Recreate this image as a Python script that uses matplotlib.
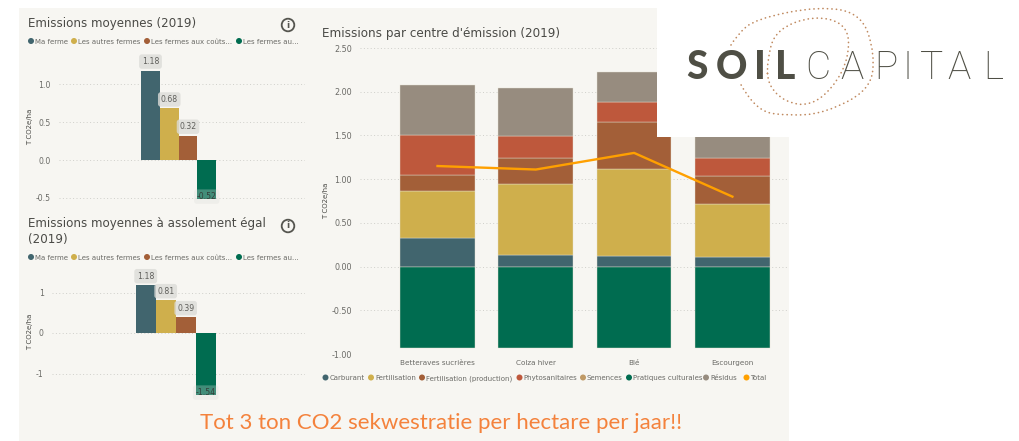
import numpy as np
import matplotlib
matplotlib.use('Agg')
import matplotlib.pyplot as plt
from matplotlib.patches import Rectangle, Circle, PathPatch
from matplotlib.path import Path

W, H = 1020, 441

# small charts
farm_names = ['Ma ferme', 'Les autres fermes', 'Les fermes aux coûts...', 'Les fermes au...']
avg_values = [1.18, 0.68, 0.32, -0.52]
avg_labels = ['1.18', '0.68', '0.32', '-0.52']
equal_values = [1.18, 0.81, 0.39, -1.54]
equal_labels = ['1.18', '0.81', '0.39', '-1.54']

# main chart
crops = ['Betteraves sucrières', 'Colza hiver', 'Blé', 'Escourgeon']
carburant = [0.33, 0.13, 0.12, 0.11]
fertilisation = [0.54, 0.82, 1.00, 0.61]
fert_production = [0.18, 0.29, 0.53, 0.32]
phytosanitaires = [0.46, 0.25, 0.23, 0.20]
pratiques = [-0.93, -0.93, -0.93, -0.93]
residus = [0.57, 0.55, 0.35, 0.40]
total = [1.15, 1.11, 1.30, 0.80]
main_legend = ['Carburant', 'Fertilisation', 'Fertilisation (production)', 'Phytosanitaires',
               'Semences', 'Pratiques culturales', 'Résidus', 'Total']

TEAL = '#41656e'
GOLD = '#cfaf4c'
BROWN = '#a35f38'
RED = '#be583c'
TAN = '#c09a66'
GREEN = '#006c50'
GREY = '#978c7f'
ORANGE = '#ffa000'
PANEL = '#f7f6f2'
TXT = '#6a6a66'


def px_axes(left, right, top, bottom, zorder=1):
    ax = fig.add_axes([left / W, 1 - bottom / H, (right - left) / W, (bottom - top) / H], zorder=zorder)
    ax.patch.set_alpha(0)
    for s in ax.spines.values():
        s.set_visible(False)
    return ax


def small_chart(ax, values, labels, ticks, fmt):
    cols = [TEAL, GOLD, BROWN, GREEN]
    ax.bar(range(4), values, width=1.0, color=cols, zorder=2)
    ax.set_yticks(ticks)
    ax.set_yticklabels([fmt % t for t in ticks], fontsize=5.6, color=TXT)
    ax.set_xticks([])
    ax.tick_params(axis='y', length=0, pad=6)
    ax.yaxis.grid(True, linestyle=(0, (1, 2.5)), color='#cfcfca', lw=0.7, zorder=0)
    ax.set_axisbelow(True)
    for i, (v, lab) in enumerate(zip(values, labels)):
        # positive labels sit above the bar, the negative one lies over its end
        yoff = 6.5 if v > 0 else 2
        alpha = 0.8 if v > 0 else 0.3
        col = '#5f5f5b' if v > 0 else '#33403a'
        ax.annotate(lab, (i, v), xytext=(0, yoff), textcoords='offset points',
                    ha='center', va='center', fontsize=5.6, color=col, zorder=3,
                    bbox=dict(boxstyle='round,pad=0.35', fc='#dcdcd8', ec='none', alpha=alpha))


fig = plt.figure(figsize=(W / 100, H / 100), dpi=100, facecolor='white')
plt.rcParams['font.family'] = ['DejaVu Sans']

# page layer in pixel coordinates
bg = fig.add_axes([0, 0, 1, 1], zorder=0)
bg.set_xlim(0, W)
bg.set_ylim(H, 0)
bg.axis('off')
bg.add_patch(Rectangle((19, 8), 770, 433, fc=PANEL, ec='none'))

# top left chart
ax1 = px_axes(59, 305, 60, 210)
ax1.set_xlim((59 - 150.5) / 18.75, (305 - 150.5) / 18.75)
ax1.set_ylim(-0.66, 1.32)
small_chart(ax1, avg_values, avg_labels, [-0.5, 0.0, 0.5, 1.0], '%.1f')
bg.text(28, 23, 'Emissions moyennes (2019)', fontsize=8.6, color='#4a4a46', va='center')
bg.text(30, 127, 'T CO2e/ha', fontsize=5, color='#4a4a46', rotation=90, ha='center', va='center')

# bottom left chart
ax2 = px_axes(52, 305, 270, 400)
ax2.set_xlim((52 - 145.7) / 20, (305 - 145.7) / 20)
ax2.set_ylim(-(400 - 333) / 40.5, (333 - 270) / 40.5)
small_chart(ax2, equal_values, equal_labels, [-1, 0, 1], '%d')
bg.text(28, 224, 'Emissions moyennes à assolement égal', fontsize=8.6, color='#4a4a46', va='center')
bg.text(28, 239, '(2019)', fontsize=8.6, color='#4a4a46', va='center')
bg.text(30, 332, 'T CO2e/ha', fontsize=5, color='#4a4a46', rotation=90, ha='center', va='center')

# legends of the small charts
for ly in (41, 257):
    for name, col, tx in zip(farm_names, [TEAL, GOLD, BROWN, GREEN], [31, 74, 147, 239]):
        bg.add_patch(Circle((tx, ly), 3, fc=col, ec='none'))
        bg.text(tx + 4, ly, name, fontsize=5.0, color=TXT, va='center_baseline')

# info icons
for iy in (25, 226):
    bg.add_patch(Circle((288, iy), 6.3, fc='none', ec='#55554f', lw=1.3))
    bg.text(288, iy, 'i', fontsize=6.5, color='#55554f', ha='center', va='center', fontweight='bold')

# main chart
ax3 = px_axes(360, 789, 48, 354)
ax3.set_xlim((360 - 437.5) / 98.3, (789 - 437.5) / 98.3)
ax3.set_ylim(-1.0, 2.5)
x = np.arange(4)
base = np.zeros(4)
for vals, col in zip([carburant, fertilisation, fert_production, phytosanitaires, residus],
                     [TEAL, GOLD, BROWN, RED, GREY]):
    ax3.bar(x, vals, bottom=base, width=0.76, color=col, edgecolor='#e4e0d2', lw=0.3, zorder=2)
    base = base + np.array(vals)
ax3.bar(x, pratiques, width=0.76, color=GREEN, edgecolor='#e4e0d2', lw=0.3, zorder=2)
ax3.plot(x, total, color=ORANGE, lw=1.7, zorder=3)
ax3.set_yticks([-1, -0.5, 0, 0.5, 1, 1.5, 2, 2.5])
ax3.set_yticklabels(['%.2f' % t for t in ax3.get_yticks()], fontsize=5.8, color=TXT)
ax3.set_xticks(x)
ax3.set_xticklabels(crops, fontsize=5.2, color=TXT)
ax3.tick_params(axis='both', length=0)
ax3.tick_params(axis='y', pad=6)
ax3.tick_params(axis='x', pad=4)
ax3.yaxis.grid(True, linestyle=(0, (1, 2.5)), color='#cfcfca', lw=0.7, zorder=0)
ax3.set_axisbelow(True)
bg.text(322, 33, "Emissions par centre d'émission (2019)", fontsize=8.65, color='#4a4a46', va='center')
bg.text(326, 201, 'T CO2e/ha', fontsize=5, color='#4a4a46', rotation=90, ha='center', va='center')

for name, col, tx in zip(main_legend, [TEAL, GOLD, BROWN, RED, TAN, GREEN, GREY, ORANGE],
                         [325.5, 371, 422, 519.5, 583, 629, 706, 746.5]):
    bg.add_patch(Circle((tx, 377.5), 3, fc=col, ec='none'))
    bg.text(tx + 4, 377.5, name, fontsize=5.0, color=TXT, va='center_baseline')

bg.text(441, 423, 'Tot 3 ton CO2 sekwestratie per hectare per jaar!!', fontsize=16, color='#f4823c',
        family='Lato', ha='center', va='center')

# logo block sits over the charts
logo = fig.add_axes([0, 0, 1, 1], zorder=5)
logo.set_xlim(0, W)
logo.set_ylim(H, 0)
logo.axis('off')
logo.patch.set_alpha(0)
logo.add_patch(Rectangle((657, 0), W - 657, 137, fc='white', ec='none'))


def blob(pts, closed=True):
    pts = np.array(pts, dtype=float)
    mids = (pts + np.roll(pts, -1, axis=0)) / 2
    verts = [mids[-1]]
    codes = [Path.MOVETO]
    for p, m in zip(pts, mids):
        verts += [p, m]
        codes += [Path.CURVE3, Path.CURVE3]
    if not closed:
        verts = verts[:-2]
        codes = codes[:-2]
    return Path(verts, codes)


dot_style = dict(fc='none', ec='#c08a60', lw=1.2, linestyle=(0, (0.1, 2.6)), capstyle='round')
logo.add_patch(PathPatch(blob([(737, 35), (755, 19), (820, 6), (862, 14), (875, 55), (870, 90),
                               (825, 113), (790, 116), (755, 111), (725, 55)], closed=False), **dot_style))
logo.add_patch(PathPatch(blob([(767, 62), (775, 30), (815, 15), (848, 25), (849, 58), (833, 88),
                               (810, 106), (785, 102), (768, 85)]), **dot_style))

for ch, cx, bold in zip('SOILCAPITAL',
                        [697, 732, 760, 785, 818, 852, 886, 908, 932, 959, 993],
                        [1, 1, 1, 1, 0, 0, 0, 0, 0, 0, 0]):
    logo.text(cx, 79, ch, fontsize=28, color='#4f4f45', ha='center', va='baseline',
              family='Roboto' if not bold else 'Lato', fontweight='black' if bold else 'light')

fig.savefig('out.png', dpi=100)
